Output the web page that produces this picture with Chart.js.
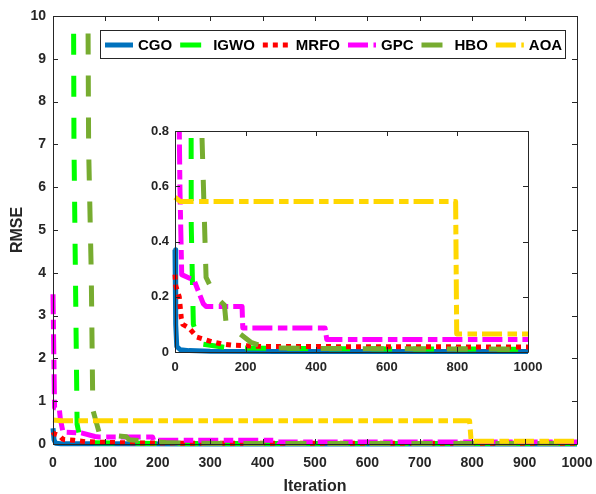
<!DOCTYPE html>
<html>
<head>
<meta charset="utf-8">
<script src="https://cdn.jsdelivr.net/npm/chart.js@4.4.1/dist/chart.umd.min.js"></script>
<style>
  body { margin: 0; background: #fff; }
  #wrap { position: relative; width: 596px; height: 494px; }
  #main { position: absolute; left: 0; top: 0; }
  #inset { position: absolute; left: 135px; top: 117px; }
</style>
</head>
<body>
<div id="wrap">
  <canvas id="main" width="596" height="494"></canvas>
  <canvas id="inset" width="420" height="264"></canvas>
</div>
<script>
// series (iteration, RMSE)
var names = ['CGO', 'IGWO', 'MRFO', 'GPC', 'HBO', 'AOA'];

var cgoIter = [0, 2, 5, 15, 40, 100, 300, 1000];
var cgoRmse = [0.37, 0.1, 0.02, 0.008, 0.005, 0.003, 0.002, 0.002];

var igwoIter = [0, 38, 40, 46, 52, 72, 150, 400, 1000];
var igwoRmse = [40, 15, 7.0, 0.46, 0.1, 0.03, 0.015, 0.012, 0.01];

var mrfoIter = [0, 2, 12, 18, 22, 40, 62, 85, 108, 133, 160, 250, 1000];
var mrfoRmse = [0.28, 0.24, 0.2, 0.12, 0.1, 0.087, 0.054, 0.045, 0.036, 0.029, 0.025, 0.02, 0.018];

var gpcIter = [0, 3, 12, 14, 19, 54, 80, 88, 190, 192, 425, 430, 1000];
var gpcRmse = [3.5, 0.85, 0.82, 0.59, 0.28, 0.26, 0.175, 0.165, 0.165, 0.087, 0.087, 0.045, 0.045];

var hboIter = [0, 66, 68, 73, 76, 88, 115, 140, 145, 185, 215, 260, 500, 1000];
var hboRmse = [40, 12, 6.9, 4.0, 0.8, 0.27, 0.2, 0.17, 0.1, 0.065, 0.035, 0.015, 0.012, 0.01];

var aoaIter = [0, 15, 795, 798, 1000];
var aoaRmse = [0.56, 0.545, 0.545, 0.065, 0.065];

var xTicksMain = [0, 1000, 100];
var yTicksMain = [0, 10, 1];
var xTicksInset = [0, 1000, 200];
var yTicksInset = [0, 0.8, 0.2];

var colors = ['#0072BD', '#00FF00', '#FF0000', '#FF00FF', '#77AC30', '#FFD700'];
var dashes = [[], [21, 21], [5, 5], [20, 5.5, 9.5, 5], [21, 21], [20, 5.5, 9.5, 5]];

var fontFam = '"Liberation Sans", Arial, Helvetica, sans-serif';
var axisColor = '#262626';

function pts(xs, ys) {
    var out = [];
    for (let i = 0; i < xs.length; i++) {
        out.push({x: xs[i], y: ys[i]});
    }
    return out;
}

function makeDatasets(clip) {
    var all = [[cgoIter, cgoRmse], [igwoIter, igwoRmse], [mrfoIter, mrfoRmse],
               [gpcIter, gpcRmse], [hboIter, hboRmse], [aoaIter, aoaRmse]];
    return all.map(function (s, i) {
        return {
            label: names[i],
            data: pts(s[0], s[1]),
            borderColor: colors[i],
            backgroundColor: colors[i],
            borderWidth: 5,
            borderDash: dashes[i],
            borderCapStyle: 'butt',
            borderJoinStyle: 'round',
            pointRadius: 0,
            tension: 0,
            fill: false,
            order: names.length - i,
            clip: clip
        };
    });
}

// matlab style box with inward ticks
var boxAxes = {
    id: 'boxAxes',
    beforeDraw(chart) {
        var a = chart.chartArea;
        chart.ctx.save();
        chart.ctx.fillStyle = '#fff';
        chart.ctx.fillRect(a.left, a.top, a.right - a.left, a.bottom - a.top);
        chart.ctx.restore();
    },
    afterDatasetsDraw(chart) {
        var ctx = chart.ctx, a = chart.chartArea;
        var xs = chart.scales.x, ys = chart.scales.y;
        var len = 5;
        ctx.save();
        ctx.strokeStyle = axisColor;
        ctx.lineWidth = 1;
        ctx.setLineDash([]);
        ctx.beginPath();
        xs.ticks.forEach(function (t) {
            var p = Math.round(xs.getPixelForValue(t.value)) + 0.5;
            ctx.moveTo(p, a.bottom); ctx.lineTo(p, a.bottom - len);
            ctx.moveTo(p, a.top); ctx.lineTo(p, a.top + len);
        });
        ys.ticks.forEach(function (t) {
            var p = Math.round(ys.getPixelForValue(t.value)) + 0.5;
            ctx.moveTo(a.left, p); ctx.lineTo(a.left + len, p);
            ctx.moveTo(a.right, p); ctx.lineTo(a.right - len, p);
        });
        ctx.rect(Math.round(a.left) + 0.5, Math.round(a.top) + 0.5,
                 Math.round(a.right - a.left), Math.round(a.bottom - a.top));
        ctx.stroke();
        ctx.restore();
    }
};

var legendBox = {
    id: 'legendBox',
    afterDraw(chart) {
        var ctx = chart.ctx;
        var yMid = 45;
        ctx.save();
        ctx.font = 'bold 15px ' + fontFam;
        var x = 105, pos = [];
        chart.data.datasets.forEach(function (ds) {
            var w = ctx.measureText(ds.label).width;
            pos.push({ds: ds, x: x});
            x += 28 + 5 + w + 8;
        });
        var right = x - 8 + 3;
        ctx.fillStyle = '#fff';
        ctx.fillRect(100, 30, right - 100, 28);
        ctx.strokeStyle = axisColor;
        ctx.lineWidth = 1;
        ctx.strokeRect(100.5, 30.5, Math.round(right - 100), 28);
        pos.forEach(function (p) {
            ctx.beginPath();
            ctx.setLineDash(p.ds.borderDash);
            ctx.lineCap = 'butt';
            ctx.lineWidth = p.ds.borderWidth;
            ctx.strokeStyle = p.ds.borderColor;
            ctx.moveTo(p.x, yMid);
            ctx.lineTo(p.x + 28, yMid);
            ctx.stroke();
            ctx.setLineDash([]);
            ctx.fillStyle = '#000';
            ctx.textBaseline = 'middle';
            ctx.textAlign = 'left';
            ctx.fillText(p.ds.label, p.x + 33, yMid + 1);
        });
        ctx.restore();
    }
};

function tickFont(size) {
    return {family: fontFam, size: size, weight: 'bold'};
}

function plainNum(v) {
    return String(Math.round(v * 1000) / 1000);
}

new Chart(document.getElementById('main'), {
    type: 'line',
    data: {datasets: makeDatasets({left: 3, top: 0, right: 0, bottom: 3})},
    options: {
        responsive: false,
        animation: false,
        devicePixelRatio: 1,
        layout: {padding: {top: 16, right: 19, left: 0, bottom: 0}},
        plugins: {legend: {display: false}, tooltip: {enabled: false}},
        scales: {
            x: {
                type: 'linear',
                min: xTicksMain[0], max: xTicksMain[1],
                grid: {display: false, drawTicks: true, tickLength: 8},
                border: {display: false},
                ticks: {stepSize: xTicksMain[2], padding: 3, maxRotation: 0, autoSkip: false,
                        color: axisColor, font: tickFont(14), callback: plainNum},
                title: {display: true, text: 'Iteration', color: axisColor,
                        font: {family: fontFam, size: 16, weight: 'bold', lineHeight: 1},
                        padding: {top: 0, bottom: -1}},
                afterFit: function (s) { s.height = 50; }
            },
            y: {
                type: 'linear',
                min: yTicksMain[0], max: yTicksMain[1],
                grid: {display: false, drawTicks: false},
                border: {display: false},
                ticks: {stepSize: yTicksMain[2], padding: 7, color: axisColor, font: tickFont(14),
                        callback: plainNum},
                title: {display: true, text: 'RMSE', color: axisColor,
                        font: {family: fontFam, size: 16, weight: 'bold', lineHeight: 1},
                        padding: {top: 10, bottom: 0}},
                afterFit: function (s) { s.width = 53; }
            }
        }
    },
    plugins: [boxAxes, legendBox]
});

new Chart(document.getElementById('inset'), {
    type: 'line',
    data: {datasets: makeDatasets({left: 3, top: 0, right: 0, bottom: 3})},
    options: {
        responsive: false,
        animation: false,
        devicePixelRatio: 1,
        layout: {padding: {top: 14, right: 27, left: 0, bottom: 0}},
        plugins: {legend: {display: false}, tooltip: {enabled: false}},
        scales: {
            x: {
                type: 'linear',
                min: xTicksInset[0], max: xTicksInset[1],
                grid: {display: false, drawTicks: false},
                border: {display: false},
                ticks: {stepSize: xTicksInset[2], padding: 8, maxRotation: 0, autoSkip: false,
                        color: axisColor, font: tickFont(13), callback: plainNum},
                afterFit: function (s) { s.height = 29; }
            },
            y: {
                type: 'linear',
                min: yTicksInset[0], max: yTicksInset[1],
                grid: {display: false, drawTicks: false},
                border: {display: false},
                ticks: {stepSize: yTicksInset[2], padding: 6, color: axisColor, font: tickFont(13),
                        callback: plainNum},
                afterFit: function (s) { s.width = 40; }
            }
        }
    },
    plugins: [boxAxes]
});
</script>
</body>
</html>
